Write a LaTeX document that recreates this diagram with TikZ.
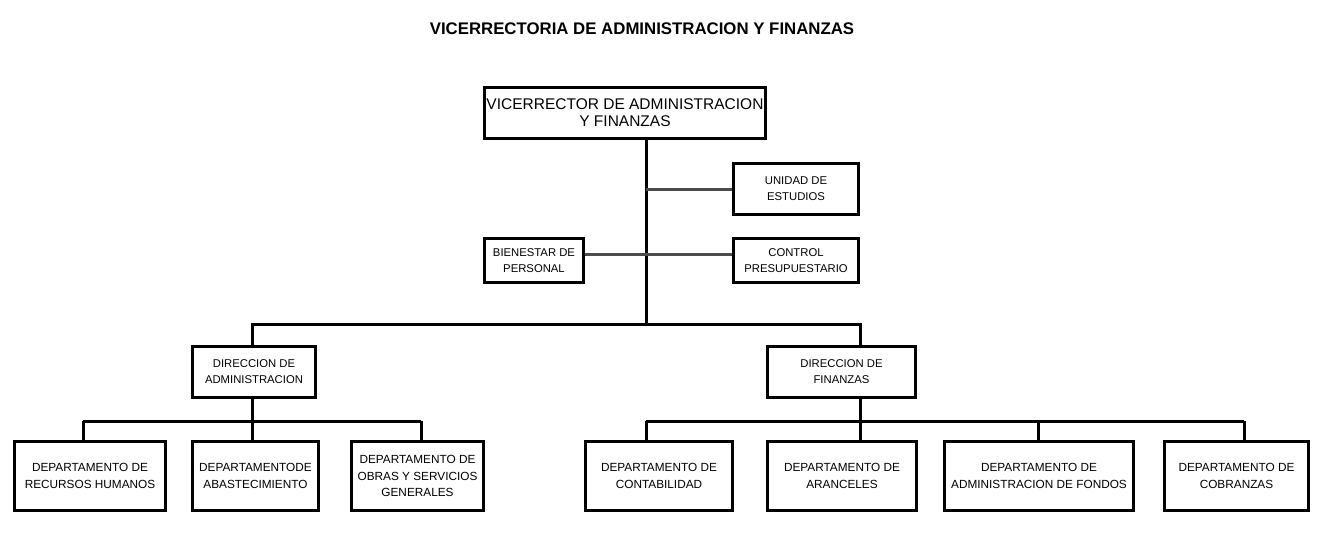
\documentclass[tikz,border=0pt]{standalone}
\usepackage{fontspec}
\setmainfont{Liberation Sans}
\begin{document}
\begin{tikzpicture}[x=1pt, y=-1pt,
    caja/.style={draw, line width=3pt, inner sep=0pt, align=center, font=\fontsize{11.8}{16.7}\selectfont, minimum height=69pt},
    cajachica/.style={draw, line width=3pt, inner sep=0pt, align=center, font=\fontsize{11.3}{16}\selectfont},
    linea/.style={line width=3pt},
    lateral/.style={line width=3pt, color=black!70}]
    \useasboundingbox (0,0) rectangle (1331,539);
    \node[font=\bfseries\fontsize{16.8}{20}\selectfont] (titulo) at (642,29) {VICERRECTORIA DE ADMINISTRACION Y FINANZAS};
    \node[cajachica, font=\fontsize{15.5}{17.3}\selectfont, minimum width=281pt, minimum height=51pt] (vicerrector) at (625,113) {VICERRECTOR DE ADMINISTRACION\\Y FINANZAS};
    \node[cajachica, minimum width=125pt, minimum height=51pt] (unidad) at (796,189) {UNIDAD DE\\ESTUDIOS};
    \node[cajachica, minimum width=99pt, minimum height=44pt] (bienestar) at (534,260.5) {BIENESTAR DE\\PERSONAL};
    \node[cajachica, minimum width=125pt, minimum height=44pt] (control) at (796,260.5) {CONTROL\\PRESUPUESTARIO};
    \node[cajachica, minimum width=123pt, minimum height=51pt] (diradm) at (254,372) {DIRECCION DE\\ADMINISTRACION};
    \node[cajachica, minimum width=148pt, minimum height=51pt] (dirfin) at (841.5,372) {DIRECCION DE\\FINANZAS};
    \node[caja, minimum width=151pt] (rrhh) at (90,476) {DEPARTAMENTO DE\\RECURSOS HUMANOS};
    \node[caja, minimum width=126pt] (abast) at (255.5,476) {DEPARTAMENTODE\\ABASTECIMIENTO};
    \node[caja, minimum width=132pt] (obras) at (417.5,476) {DEPARTAMENTO DE\\OBRAS Y SERVICIOS\\GENERALES};
    \node[caja, minimum width=147pt] (conta) at (659,476) {DEPARTAMENTO DE\\CONTABILIDAD};
    \node[caja, minimum width=149pt] (aranc) at (842,476) {DEPARTAMENTO DE\\ARANCELES};
    \node[caja, minimum width=189pt] (fondos) at (1039,476) {DEPARTAMENTO DE\\ADMINISTRACION DE FONDOS};
    \node[caja, minimum width=144pt] (cobra) at (1236.5,476) {DEPARTAMENTO DE\\COBRANZAS};
    \coordinate (tronco) at (646,324);
    \coordinate (ramal) at (646,254);
    \coordinate (bIzq) at (252,324);
    \coordinate (bDer) at (860,324);
    \draw[linea] (vicerrector.south -| tronco) -- (tronco);
    \draw[lateral] (tronco |- unidad.west) -- (unidad.west);
    \draw[lateral] (bienestar.east |- ramal) -- (control.west |- ramal);
    \draw[linea] (diradm.north -| bIzq) -- (bIzq) -- (bDer) -- (dirfin.north -| bDer);
    \foreach \dep/\xx in {rrhh/83, abast/252, obras/421, conta/646, aranc/860, fondos/1038, cobra/1244} {
        \coordinate (b-\dep) at (\xx,421);
        \draw[linea] (b-\dep) -- (b-\dep |- \dep.north);
    }
    \draw[linea] (diradm.south -| b-abast) -- (b-abast);
    \draw[linea] (b-rrhh) -- (b-obras);
    \draw[linea] (dirfin.south -| b-aranc) -- (b-aranc);
    \draw[linea] (b-conta) -- (b-cobra);
\end{tikzpicture}
\end{document}
